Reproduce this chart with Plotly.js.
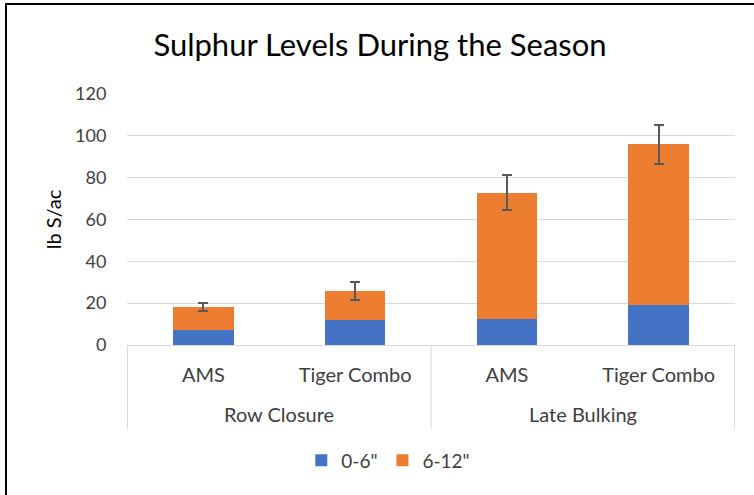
<!DOCTYPE html>
<html>
<head>
<meta charset="utf-8">
<script src="https://cdn.plot.ly/plotly-3.0.1.min.js"></script>
<style>
  html, body { margin: 0; padding: 0; background: #fff; }
  #chart { width: 754px; height: 495px; }
  #frame { position: absolute; left: 5px; top: 3px; width: 749px; height: 492px;
           border-left: 2px solid #000; border-top: 2px solid #000; pointer-events: none; box-sizing: border-box; }
</style>
</head>
<body>
<div id="chart"></div>
<div id="frame"></div>
<script>
const groups = ["Row Closure", "Row Closure", "Late Bulking", "Late Bulking"];
const products = ["AMS", "Tiger Combo", "AMS", "Tiger Combo"];
const depth0to6 = [7.4, 12.1, 12.6, 19.3];
const depth6to12 = [10.8, 13.7, 60.3, 76.6];
const totalError = [2.0, 4.4, 8.3, 9.5];
const seriesNames = ["0-6\"", "6-12\""];

const font = "Lato, 'Noto Sans', sans-serif";
const grid = "#D9D9D9";

// unique category keys built from the group + product arrays
const keys = groups.map((g, i) => g + " | " + products[i]);

// group spans (index ranges) derived from the groups array
const spans = [];
groups.forEach((g, i) => {
  const last = spans[spans.length - 1];
  if (last && last.name === g) last.end = i; else spans.push({ name: g, start: i, end: i });
});

const dividerBottom = -0.335;
const shapes = [];
const dividerXs = [spans[0].start - 0.5].concat(spans.map(s => s.end + 0.5));
dividerXs.forEach(x => shapes.push({
  type: "line", xref: "x", yref: "paper", x0: x, x1: x, y0: 0, y1: dividerBottom,
  line: { color: grid, width: 1 }
}));

const annotations = spans.map(s => ({
  xref: "x", yref: "paper", x: (s.start + s.end) / 2, y: -0.276,
  text: s.name, showarrow: false, xanchor: "center", yanchor: "middle",
  font: { family: font, size: 20, color: "#404040" }
}));

const traces = [
  {
    type: "bar", name: seriesNames[0], x: keys, y: depth0to6,
    marker: { color: "#4472C4", line: { width: 0 } }
  },
  {
    type: "bar", name: seriesNames[1], x: keys, y: depth6to12,
    marker: { color: "#ED7D31", line: { width: 0 } },
    error_y: { type: "data", array: totalError, visible: true, color: "#595959", thickness: 2, width: 5 }
  }
];

const layout = {
  width: 754, height: 495,
  barmode: "stack", bargap: 0.6,
  paper_bgcolor: "#fff", plot_bgcolor: "#fff",
  font: { family: font, color: "#404040", size: 18 },
  margin: { l: 127, r: 19, t: 93.5, b: 149.5 },
  title: {
    text: "Sulphur Levels During the Season",
    font: { family: font, size: 31, color: "#000" },
    x: 0.504, xref: "container", xanchor: "center",
    y: 0.909, yref: "container", yanchor: "middle"
  },
  xaxis: {
    type: "category",
    tickvals: keys, ticktext: products,
    showgrid: false,
    showline: true, linecolor: grid, linewidth: 1,
    ticks: "outside", ticklen: 12, tickcolor: "rgba(0,0,0,0)",
    tickfont: { family: font, size: 20, color: "#404040" },
    automargin: false
  },
  yaxis: {
    range: [0, 120], dtick: 20,
    showgrid: true, gridcolor: grid, gridwidth: 1,
    zeroline: false, showline: false,
    ticks: "outside", ticklen: 16, tickcolor: "rgba(0,0,0,0)",
    tickfont: { family: font, size: 18, color: "#404040" },
    title: { text: "lb S/ac", font: { family: font, size: 20, color: "#000" }, standoff: 8 },
    automargin: false
  },
  shapes: shapes,
  annotations: annotations,
  legend: {
    orientation: "h", x: 0.515, xref: "container", xanchor: "center",
    y: 0.07, yref: "container", yanchor: "middle",
    font: { family: font, size: 19, color: "#404040" },
    traceorder: "normal"
  },
  showlegend: true
};

Plotly.newPlot("chart", traces, layout, { displayModeBar: false, staticPlot: true });
</script>
</body>
</html>
